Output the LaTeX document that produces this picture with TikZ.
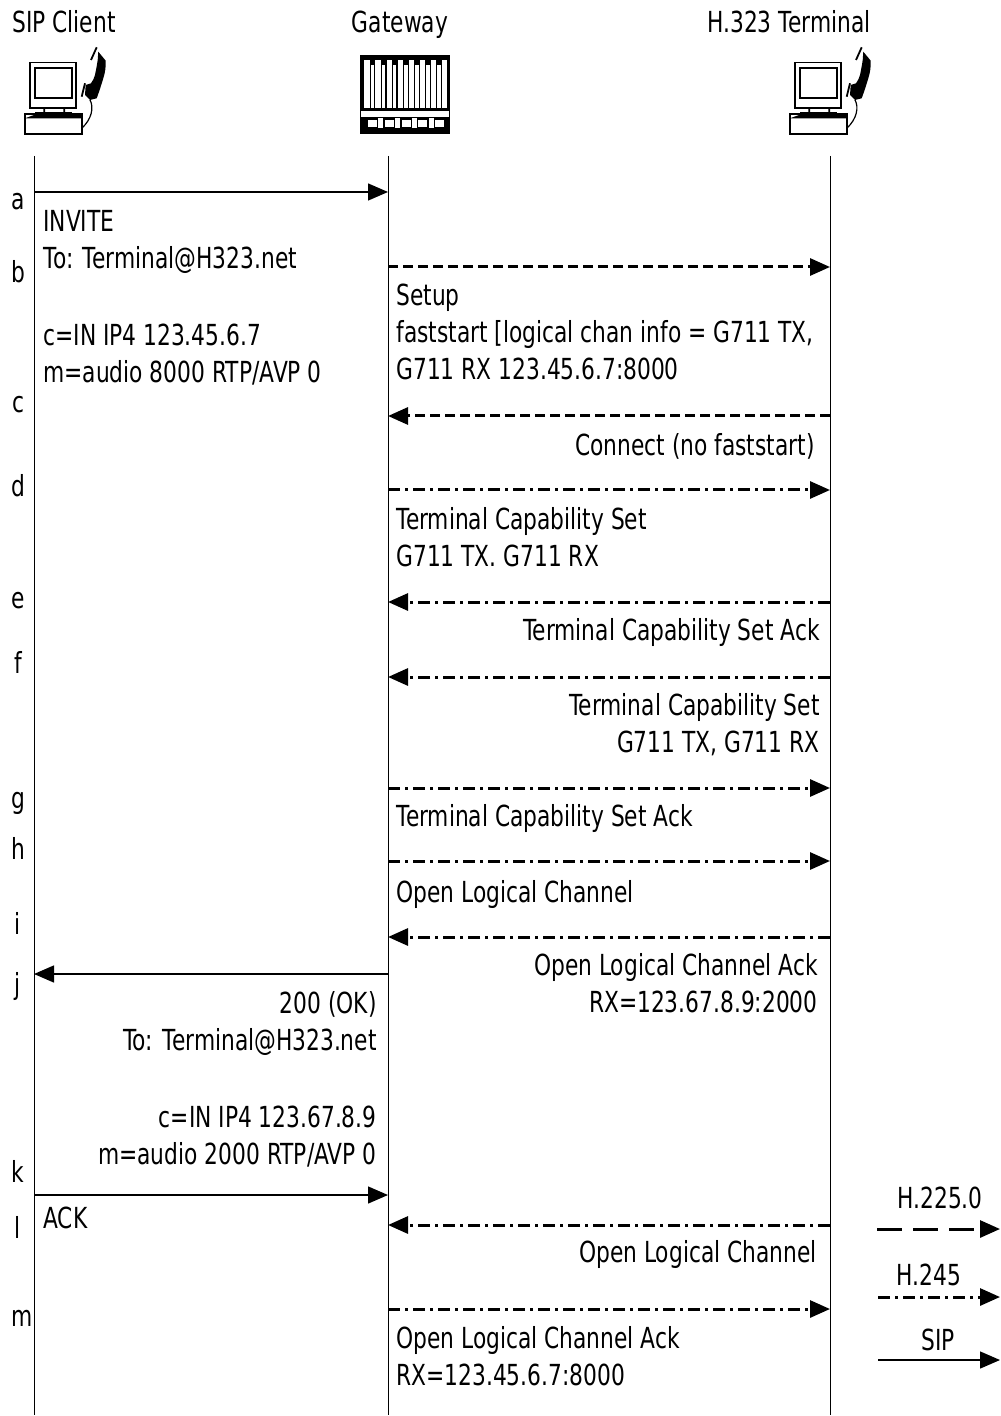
\documentclass[tikz,border=0pt]{standalone}
\usepackage{fontspec}
\setmainfont[FakeStretch=0.75]{DejaVu Sans}
\usepackage{tikz}
\usetikzlibrary{calc, positioning, arrows.meta}
\tikzset{
  msgtip/.style={-{Triangle[length=10pt,width=8.5pt]}},
  sipmsg/.style={msgtip, line width=0.7pt},
  setupmsg/.style={msgtip, line width=1.5pt, dash pattern=on 5pt off 2.5pt},
  ctrlmsg/.style={msgtip, line width=1.5pt, dash pattern=on 6pt off 2.5pt on 1.5pt off 2.5pt},
  lifeline/.style={line width=0.5pt},
  txt/.style={inner sep=0pt, font=\fontsize{14.5}{18.5}\selectfont},
  leftmsg/.style={txt, anchor=north west, align=left},
  rightmsg/.style={txt, anchor=north east, align=right},
  terminal/.pic={
    % monitor and stand
    \draw[line width=0.8pt] (5,15.7) rectangle (51,61.3);
    \draw[line width=0.8pt] (10,21.3) rectangle (46.7,51.3);
    \fill (18.3,61.3) rectangle (20,65) (38.3,61.3) rectangle (40,65);
    \fill (10,64.7) rectangle (47.3,66.3);
    % keyboard
    \draw[line width=0.8pt] (0,67) rectangle (56.7,87);
    \fill (0,71.3) -- (11.7,67) -- (56.7,67) -- (56.7,71.3) -- cycle;
    % handset
    \fill (73.3,4.7) -- (80.7,13.7) .. controls (81,20) and (80,26) .. (78.3,31.3)
      .. controls (76,39) and (74,45) .. (71.7,51.3)
      -- (65,53) -- (60,48) -- (60.7,38) -- (66,36.3)
      .. controls (68,34) and (69,31) .. (70,28)
      .. controls (71,23) and (72,18) .. (72.7,13) -- cycle;
    \draw[line width=0.9pt] (71.7,0.3) -- (66,13);
    \draw[line width=0.9pt] (60,36.3) -- (56.7,49.7);
    % cord
    \draw[line width=0.6pt] (65,53) .. controls (69,60) and (67,72) .. (56.7,81.3);
  },
  gateway/.pic={
    \fill (0,0) rectangle (90,79);
    % tall and short slots
    \foreach \x in {0,1,...,7}
      \fill[white] (4.3+\x*11.1,5) rectangle (9.6+\x*11.1,53);
    \foreach \x in {0,1,...,6}
      \fill[white] (10.7+\x*11.1,10) rectangle (14.2+\x*11.1,53);
    \fill[white] (1,56) rectangle (89,61.7);
    % switches
    \foreach \x in {0,1,...,4}
      \fill[white] (7.7+\x*16.9,65) rectangle (16.7+\x*16.9,72.3);
    \foreach \x in {0,1,...,3}
      \fill[white] (18.3+\x*16.9,63.3) rectangle (23.3+\x*16.9,73.3);
  }
}
\begin{document}
\begin{tikzpicture}[x=0.5pt, y=-0.5pt]
  \useasboundingbox (0,0) rectangle (1000,1416);

  % headings and icons
  \node[txt, anchor=base west] (sipHead) at (12,33) {SIP Client};
  \node[txt, anchor=base] (gwHead) at (400,33) {Gateway};
  \node[txt, anchor=base] (termHead) at (789,33) {H.323 Terminal};
  \pic at (25,47) {terminal};
  \pic at (360,55) {gateway};
  \pic at (790,47) {terminal};

  % lifelines
  \foreach \nm/\x in {sip/34, gw/388, term/830} {
    \coordinate (\nm Top) at (\x,156);
    \coordinate (\nm End) at (\x,1415);
    \draw[lifeline] (\nm Top) -- (\nm End);
  }

  % anchor points on the lifelines
  \foreach \nm/\y in {a/192, b/267, c/416, d/490, e/602, f/677, g/788,
                      h/861, i/937, j/974, k/1195, l/1225, m/1309} {
    \coordinate (sip\nm) at (34,\y);
    \coordinate (gw\nm) at (388,\y);
    \coordinate (term\nm) at (830,\y);
  }

  % messages
  \draw[sipmsg] (sipa) -- (gwa);
  \draw[setupmsg] (gwb) -- (termb);
  \draw[setupmsg] (termc) -- (gwc);
  \draw[ctrlmsg] (gwd) -- (termd);
  \draw[ctrlmsg] (terme) -- (gwe);
  \draw[ctrlmsg] (termf) -- (gwf);
  \draw[ctrlmsg] (gwg) -- (termg);
  \draw[ctrlmsg] (gwh) -- (termh);
  \draw[ctrlmsg] (termi) -- (gwi);
  \draw[sipmsg] (gwj) -- (sipj);
  \draw[sipmsg] (sipk) -- (gwk);
  \draw[ctrlmsg] (terml) -- (gwl);
  \draw[ctrlmsg] (gwm) -- (termm);

  % step letters
  \foreach \nm/\x/\y in {a/18/210, b/18/283, c/18/413, d/18/496, e/18/608,
                         f/18/673, g/18/808, h/18/859, i/18/934, j/18/994,
                         k/18/1182, l/18/1238, m/22/1326}
    \node[txt, anchor=base] (step\nm) at (\x,\y) {\nm};

  % message texts
  \node[leftmsg] (inviteTxt) at (43,210) {INVITE\\To: Terminal@H323.net\\[20pt]c=IN IP4 123.45.6.7\\m=audio 8000 RTP/AVP 0};
  \node[leftmsg] (setupTxt) at (396,284) {Setup\\faststart [logical chan info = G711 TX,\\G711 RX 123.45.6.7:8000};
  \node[rightmsg] (connectTxt) at (815,433) {Connect (no faststart)};
  \node[leftmsg] (tcsTxt) at (396,507) {Terminal Capability Set\\G711 TX. G711 RX};
  \node[rightmsg] (tcsAckTxt) at (820,618) {Terminal Capability Set Ack};
  \node[rightmsg] (tcsBackTxt) at (820,693) {Terminal Capability Set\\G711 TX, G711 RX};
  \node[leftmsg] (tcsAckFwdTxt) at (396,804) {Terminal Capability Set Ack};
  \node[leftmsg] (olcTxt) at (396,880) {Open Logical Channel};
  \node[rightmsg] (olcAckTxt) at (818,953) {Open Logical Channel Ack\\RX=123.67.8.9:2000};
  \node[rightmsg] (okTxt) at (377,991) {200 (OK)\\To: Terminal@H323.net\\[20pt]c=IN IP4 123.67.8.9\\m=audio 2000 RTP/AVP 0};
  \node[leftmsg] (ackTxt) at (43,1207) {ACK};
  \node[rightmsg] (olcBackTxt) at (817,1240) {Open Logical Channel};
  \node[leftmsg] (olcAckFwdTxt) at (396,1326) {Open Logical Channel Ack\\RX=123.45.6.7:8000};

  % legend
  \node[txt, anchor=base] (h225Txt) at (940,1208) {H.225.0};
  \coordinate (h225From) at (877,1229);
  \coordinate (h225To) at (1000,1229);
  \draw[msgtip, line width=1.5pt, dash pattern=on 12.5pt off 5.5pt] (h225From) -- (h225To);
  \node[txt, anchor=base] (h245Txt) at (929,1285) {H.245};
  \coordinate (h245From) at (878,1297);
  \coordinate (h245To) at (1000,1297);
  \draw[ctrlmsg] (h245From) -- (h245To);
  \node[txt, anchor=base] (sipTxt) at (938,1350) {SIP};
  \coordinate (sipFrom) at (878,1360);
  \coordinate (sipTo) at (1000,1360);
  \draw[sipmsg] (sipFrom) -- (sipTo);
\end{tikzpicture}
\end{document}
